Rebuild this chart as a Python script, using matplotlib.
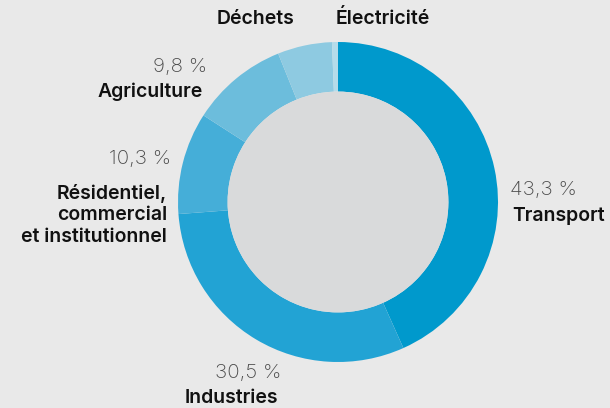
import matplotlib
matplotlib.use("Agg")
import matplotlib.pyplot as plt
from matplotlib.patches import Circle

# Émissions par secteur (%)
secteurs = ["Transport", "Industries", "Résidentiel,\ncommercial\net institutionnel",
            "Agriculture", "Déchets", "Électricité"]
parts = [43.3, 30.5, 10.3, 9.8, 5.5, 0.6]
etiquettes_pct = ["43,3 %", "30,5 %", "10,3 %", "9,8 %", None, None]
couleurs = ["#0099cc", "#22a3d4", "#45aed8", "#6cbddc", "#8ecae1", "#b5dcea"]

W, H = 610, 408
fond = "#e9e9e9"
fig = plt.figure(figsize=(W / 100, H / 100), dpi=100, facecolor=fond)

cx, cy, r = 338, 202, 160
ax = fig.add_axes([(cx - r) / W, (H - cy - r) / H, 2 * r / W, 2 * r / H])
ax.pie(parts, colors=couleurs, startangle=90, counterclock=False, radius=1,
       wedgeprops=dict(width=0.31, edgecolor="none"))
ax.add_patch(Circle((0, 0), 0.69, facecolor="#d9dadb", edgecolor="none", zorder=5))
ax.set_xlim(-1, 1)
ax.set_ylim(-1, 1)
ax.set_aspect("equal")
ax.axis("off")

fam = ["Inter", "DejaVu Sans"]


def txt(x, y, s, ha="left", bold=False, color="#111111", fs=14, **kw):
    fig.text(x / W, 1 - y / H, s, ha=ha, va="center", fontsize=fs,
             family=fam, weight="semibold" if bold else "light", color=color, **kw)


gris = "#4a4a4a"
fp = 14.8
# Transport
txt(510, 190, etiquettes_pct[0], color=gris, fs=fp)
txt(512, 216, secteurs[0], bold=True)
# Industries
txt(281, 373, etiquettes_pct[1], ha="right", color=gris, fs=fp)
txt(278, 398, secteurs[1], ha="right", bold=True)
# Résidentiel
txt(171, 159, etiquettes_pct[2], ha="right", color=gris, fs=fp)
txt(167, 215, secteurs[2], ha="right", bold=True, linespacing=1.25)
# Agriculture
txt(207, 67, etiquettes_pct[3], ha="right", color=gris, fs=fp)
txt(203, 92, secteurs[3], ha="right", bold=True)
# Déchets, Électricité
txt(256, 19, secteurs[4], ha="center", bold=True)
txt(383, 19, secteurs[5], ha="center", bold=True)

fig.savefig("out.png", dpi=100, facecolor=fond)
